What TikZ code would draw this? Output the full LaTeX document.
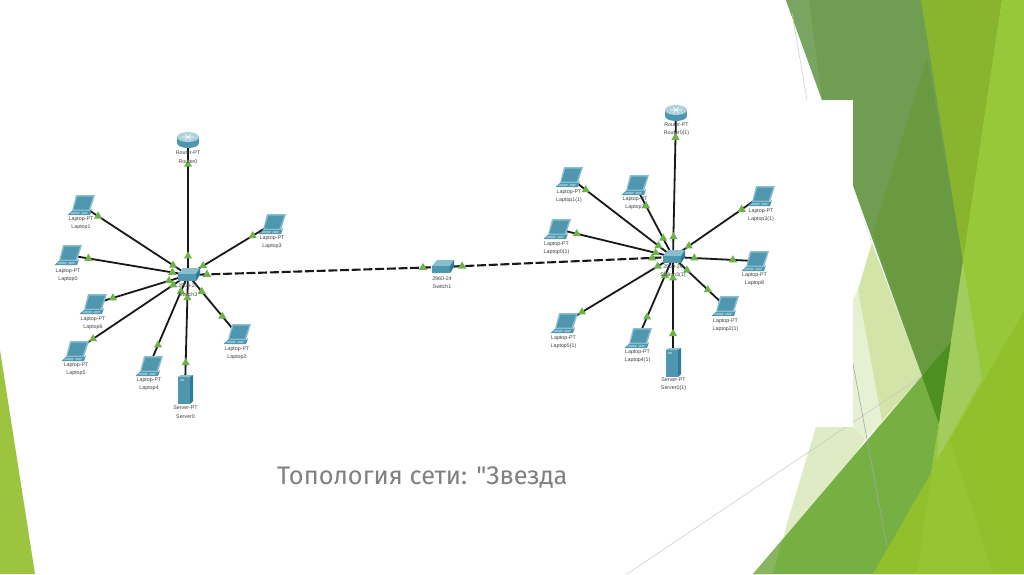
\documentclass[tikz,border=0pt]{standalone}
\usepackage{fontspec}
\setmainfont{Liberation Sans}
\newfontfamily\titlefont{Fira Sans}
\usetikzlibrary{shapes.geometric}
\definecolor{icA}{HTML}{4F96AF}
\definecolor{icB}{HTML}{8ABDCE}
\definecolor{icC}{HTML}{2F7A96}
\definecolor{tri}{HTML}{70B24A}
\definecolor{gLeft}{HTML}{9DC43F}
\definecolor{gDark}{HTML}{6F9E52}
\definecolor{gDarkB}{HTML}{6A9A40}
\definecolor{gStrip}{HTML}{78A662}
\definecolor{gOlive}{HTML}{88B42E}
\definecolor{gLight}{HTML}{97C83A}
\definecolor{gPaleA}{HTML}{E6F0D3}
\definecolor{gPaleB}{HTML}{DFEBC4}
\definecolor{gPaleC}{HTML}{D3E4A8}
\definecolor{gBig}{HTML}{76B043}
\definecolor{gBigL}{HTML}{87B65E}
\definecolor{gDeep}{HTML}{4E8F22}
\definecolor{gKite}{HTML}{A3CC5F}
\definecolor{gBright}{HTML}{92C02C}
\definecolor{gBrightL}{HTML}{96C533}
\tikzset{
  link/.style={line width=1.8pt,black!90},
  dashlink/.style={line width=2.1pt,black!90,dash pattern=on 9pt off 2.7pt},
  mark tri/.style={regular polygon,regular polygon sides=3,fill=tri,inner sep=0pt,minimum size=9.5pt},
  devlabel/.style={font=\fontsize{5.3}{8.4}\selectfont,text=black!75,align=center,inner sep=0pt},
  hairA/.style={line width=0.5pt,black!22},
  hairB/.style={line width=0.6pt,black!35}
}
\newcommand{\lnk}[5][link]{\draw[#1] (#2) -- (#3)
  node[mark tri,pos=#4] (#2-#3-a) {} node[mark tri,pos=#5] (#2-#3-b) {};}
\newcommand{\laptop}[1]{\begin{scope}[shift={(#1)}]
  \fill[icB] (-5,-10) -- (14,-10) -- (9,6) -- (-9,6) -- cycle;
  \fill[icA] (-3.5,-8.5) -- (12,-8.5) -- (7.5,4.5) -- (-7.5,4.5) -- cycle;
  \fill[icA] (-9,6) -- (9,6) -- (11,4) -- (9,10) -- (-13.5,10) -- cycle;
  \fill[icB] (-9,7) -- (-1,7) -- (-2,9) -- (-11,9) -- cycle;
  \fill[icB] (1,7) -- (7,7) -- (6,9) -- (0,9) -- cycle;
\end{scope}}
\newcommand{\switchicon}[1]{\begin{scope}[shift={(#1)}]
  \fill[icB] (-10,-1) -- (-5,-7) -- (12,-7) -- (8,-1) -- cycle;
  \fill[icA] (-10,-1) -- (8,-1) -- (8,6) -- (-10,6) -- cycle;
  \fill[icC] (8,-1) -- (12,-7) -- (12,0) -- (8,6) -- cycle;
\end{scope}}
\newcommand{\routericon}[1]{\begin{scope}[shift={(#1)}]
  \fill[icA] (0,3) ellipse[x radius=11,y radius=5];
  \fill[icA] (-11,-3) rectangle (11,3);
  \fill[icB!70!white] (0,-3) ellipse[x radius=11,y radius=5];
  \draw[white,line width=0.6pt] (-6,-3) -- (6,-3) (-3,-6) -- (3,0) (3,-6) -- (-3,0);
\end{scope}}
\newcommand{\servericon}[1]{\begin{scope}[shift={(#1)}]
  \fill[icA] (-7,-12) -- (5,-12) -- (5,15) -- (-7,15) -- cycle;
  \fill[icB] (-7,-12) -- (-4,-14) -- (8,-14) -- (5,-12) -- cycle;
  \fill[icC] (5,-12) -- (8,-14) -- (8,12) -- (5,15) -- cycle;
  \fill[icB] (-5,-10) rectangle (-1,-8.5);
\end{scope}}
\newcommand{\lab}[4]{\node[devlabel] (lab-#1) at (#2) {#3\\#4};}
\begin{document}
\begin{tikzpicture}[x=1pt,y=-1pt]
\useasboundingbox (0,0) rectangle (1024,574);
\fill[white] (0,0) rectangle (1024,574);
% background facets
\fill[gLeft] (0,350) -- (35,574) -- (0,574) -- cycle;
\fill[gDark] (786,0) -- (1002,0) -- (939,424) -- cycle;
\fill[gStrip] (786,0) -- (809,0) -- (822,100) -- cycle;
\fill[gDarkB] (927,57) -- (963,260) -- (939,424) -- (873,233) -- cycle;
\fill[gOlive] (921,0) -- (1002,0) -- (963,262) -- cycle;
\fill[gLight] (1002,0) -- (1024,0) -- (1024,574) -- (916,574) -- cycle;
\fill[gPaleA] (853,187) -- (872,243) -- (858,290) -- (853,300) -- (853,430) -- (880,430) -- (890,300) -- cycle;
\fill[gPaleA] (858,290) -- (882,421) -- (860,445) -- (853,427) -- (853,300) -- cycle;
\fill[gPaleB] (816,427) -- (853,427) -- (865,440) -- (780,560) -- (785,530) -- cycle;
\fill[gPaleC] (872,243) -- (858,290) -- (882,421) -- (922,376) -- cycle;
\fill[gBig] (753,574) -- (951,342) -- (916,574) -- cycle;
\fill[gBigL] (753,574) -- (782,541) -- (773,574) -- cycle;
\fill[gDeep] (922,376) -- (951,342) -- (939,424) -- cycle;
\fill[gKite] (963,262) -- (982,379) -- (937,460) -- (939,424) -- cycle;
\fill[gBright] (873,574) -- (1024,311) -- (1024,574) -- cycle;
\fill[gBrightL] (933,464) -- (950,441) -- (993,574) -- (917,574) -- cycle;
\draw[hairA] (792,13) -- (807,100);
\draw[hairA] (627,574) -- (922,376);
\draw[hairB] (853,364) -- (887,547);
% white slide picture
\fill[white] (0,100) rectangle (853,427);
\fill[gLeft] (0,350) -- (12,427) -- (0,427) -- cycle;
\fill[white] (0,0) rectangle (780,100);
% devices
\coordinate (R0) at (188,140);
\coordinate (S3) at (188,275);
\coordinate (L1) at (81,205);
\coordinate (L0) at (68,255);
\coordinate (L3) at (272,224);
\coordinate (L6) at (93,304);
\coordinate (L5) at (75,351);
\coordinate (L4) at (149,366);
\coordinate (L2) at (237,334);
\coordinate (V0) at (185,389);
\coordinate (S1) at (442,267);
\coordinate (Rb) at (676,113);
\coordinate (Sb) at (673,257);
\coordinate (Lb1) at (569,177);
\coordinate (Lb7) at (635,185);
\coordinate (Lb3) at (761,196);
\coordinate (Lb0) at (557,229);
\coordinate (Lb8) at (755,261);
\coordinate (Lb2) at (725,306);
\coordinate (Lb5) at (564,323);
\coordinate (Lb4) at (638,338);
\coordinate (Vb) at (673,362);
% links
\lnk{R0}{S3}{.18}{.86}
\lnk{L1}{S3}{.16}{.86}
\lnk{L3}{S3}{.23}{.82}
\lnk{L0}{S3}{.17}{.87}
\lnk{L6}{S3}{.21}{.80}
\lnk{L5}{S3}{.16}{.87}
\lnk{L4}{S3}{.23}{.82}
\lnk{V0}{S3}{.23}{.80}
\lnk{L2}{S3}{.30}{.72}
\lnk[dashlink]{S3}{S1}{.075}{.925}
\lnk[dashlink]{S1}{Sb}{.087}{.91}
\lnk{Rb}{Sb}{.17}{.86}
\lnk{Lb1}{Sb}{.16}{.86}
\lnk{Lb7}{Sb}{.29}{.74}
\lnk{Lb3}{Sb}{.22}{.82}
\lnk{Lb0}{Sb}{.17}{.85}
\lnk{Lb8}{Sb}{.27}{.74}
\lnk{Lb2}{Sb}{.33}{.73}
\lnk{Lb5}{Sb}{.165}{.86}
\lnk{Lb4}{Sb}{.26}{.77}
\lnk{Vb}{Sb}{.27}{.80}
% icons
\routericon{R0}\routericon{Rb}
\switchicon{S3}\switchicon{S1}\switchicon{Sb}
\servericon{V0}\servericon{Vb}
\laptop{L1}\laptop{L0}\laptop{L3}\laptop{L6}\laptop{L5}\laptop{L4}\laptop{L2}
\laptop{Lb1}\laptop{Lb7}\laptop{Lb3}\laptop{Lb0}\laptop{Lb8}\laptop{Lb2}\laptop{Lb5}\laptop{Lb4}
% labels
\lab{R0}{188,157}{Router-PT}{Router0}
\lab{S3}{188,290}{2960-24}{Switch3}
\lab{L1}{81,223}{Laptop-PT}{Laptop1}
\lab{L0}{68,275}{Laptop-PT}{Laptop0}
\lab{L3}{272,242.5}{Laptop-PT}{Laptop3}
\lab{L6}{93,323.5}{Laptop-PT}{Laptop6}
\lab{L5}{76,369.5}{Laptop-PT}{Laptop5}
\lab{L4}{149,384}{Laptop-PT}{Laptop4}
\lab{V0}{185.5,412}{Server-PT}{Server0}
\lab{L2}{237,353}{Laptop-PT}{Laptop2}
\lab{S1}{442,282.5}{2960-24}{Switch1}
\lab{Rb}{676.5,129.5}{Router-PT}{Router0(1)}
\lab{Sb}{673,271}{2960-24}{Switch3(1)}
\lab{Lb1}{569,196}{Laptop-PT}{Laptop1(1)}
\lab{Lb7}{635,203.5}{Laptop-PT}{Laptop7}
\lab{Lb3}{761,215}{Laptop-PT}{Laptop3(1)}
\lab{Lb0}{556.5,248}{Laptop-PT}{Laptop0(1)}
\lab{Lb8}{754.5,279}{Laptop-PT}{Laptop8}
\lab{Lb2}{725.5,325}{Laptop-PT}{Laptop2(1)}
\lab{Lb5}{563.5,342}{Laptop-PT}{Laptop5(1)}
\lab{Lb4}{637.5,356.5}{Laptop-PT}{Laptop4(1)}
\lab{Vb}{673.5,384}{Server-PT}{Server0(1)}
% title
\node[font=\titlefont\fontsize{25.4}{30}\selectfont,text=black!50,inner sep=0pt,anchor=base west] (title) at (277,484) {Топология сети: "Звезда};
\end{tikzpicture}
\end{document}
